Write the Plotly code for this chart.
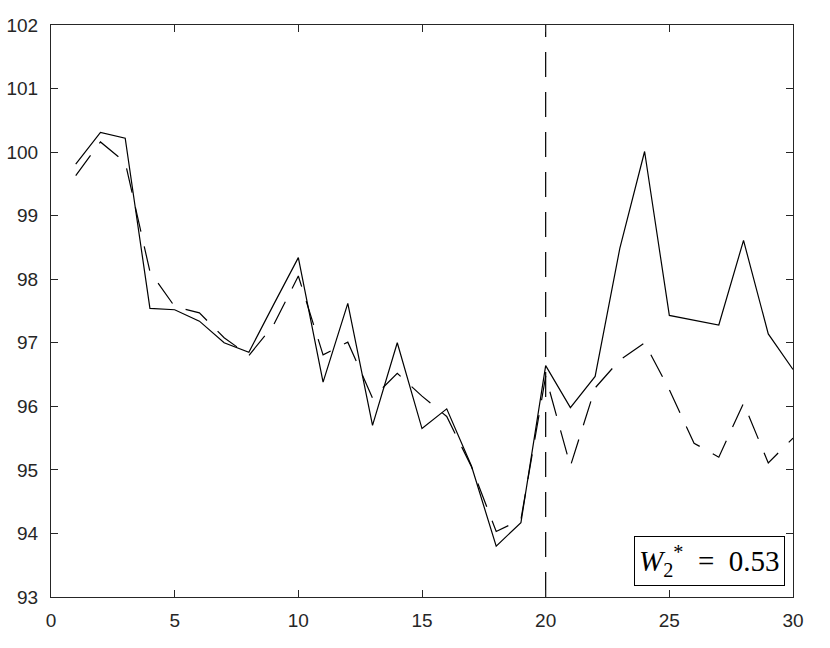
import plotly.graph_objects as go

# time index and the two series (solid = observed, dashed = model)
t = list(range(1, 31))
observed = [99.81, 100.31, 100.22, 97.54, 97.52, 97.34, 97.00, 96.85, 97.60, 98.34,
            96.38, 97.62, 95.70, 97.00, 95.65, 95.96, 95.06, 93.80, 94.17, 96.64,
            95.98, 96.47, 98.49, 100.01, 97.43, 97.36, 97.28, 98.61, 97.14, 96.58]
predicted = [99.63, 100.16, 99.84, 98.12, 97.57, 97.47, 97.08, 96.80, 97.28, 98.05,
             96.81, 97.01, 96.13, 96.52, 96.16, 95.84, 95.05, 94.03, 94.22, 96.47,
             95.06, 96.29, 96.73, 97.00, 96.26, 95.42, 95.20, 96.05, 95.11, 95.50]
split_at = 20
x_ticks = [0, 5, 10, 15, 20, 25, 30]
y_ticks = list(range(93, 103))
w2_label = "<i>W</i><sub>2</sub><sup>*</sup>&nbsp;&nbsp;=&nbsp;&nbsp;0.53"

fig = go.Figure()

fig.add_trace(go.Scatter(x=t, y=observed, mode="lines",
                         line=dict(color="black", width=1.2)))
fig.add_trace(go.Scatter(x=t, y=predicted, mode="lines",
                         line=dict(color="black", width=1.2, dash="25px,15px")))

# vertical split line
fig.add_trace(go.Scatter(x=[split_at, split_at], y=[y_ticks[0], y_ticks[-1]], mode="lines",
                         line=dict(color="black", width=1.2, dash="25px,15px")))

axis_style = dict(
    showline=True, linecolor="#262626", linewidth=1, mirror="ticks",
    ticks="inside", ticklen=7, tickcolor="#262626",
    showgrid=False, zeroline=False, automargin=False,
    tickfont=dict(family="Liberation Sans, Arial", size=19, color="#262626"),
)

fig.update_layout(
    width=830, height=648,
    margin=dict(l=51, r=37, t=25, b=51),
    paper_bgcolor="white", plot_bgcolor="white",
    showlegend=False,
    xaxis=dict(range=[0, 30], tickvals=x_ticks, ticklabelstandoff=6, **axis_style),
    yaxis=dict(range=[93, 102], tickvals=y_ticks, ticklabelstandoff=8, **axis_style),
    annotations=[dict(
        text=w2_label, xref="paper", yref="paper", x=0.989, y=0.019,
        xanchor="right", yanchor="bottom", showarrow=False,
        font=dict(family="Liberation Serif, DejaVu Serif", size=29, color="black"),
        bordercolor="black", borderwidth=1, borderpad=4, bgcolor="white",
    )],
)

# drop the page's default 8px body margin so the figure fills the window
fig.write_html("out.html", config={"displayModeBar": False},
               post_script="document.body.style.margin = '0';")
